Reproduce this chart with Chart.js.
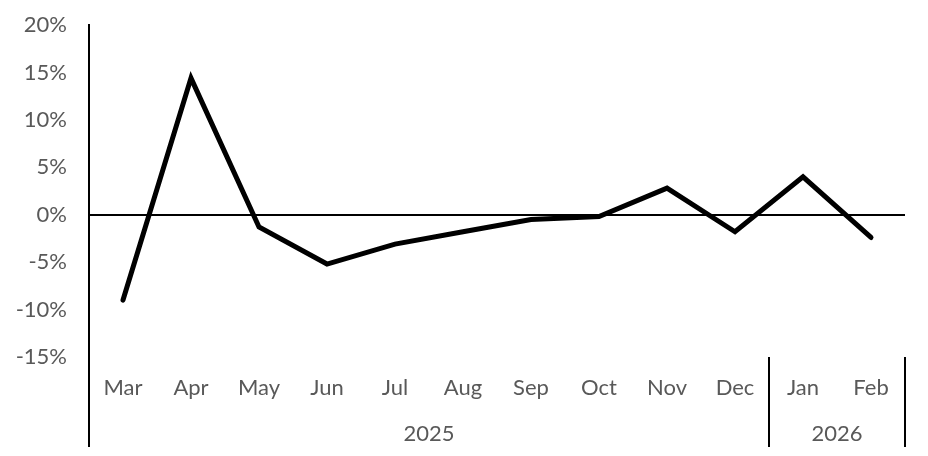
<!DOCTYPE html>
<html lang="en">
<head>
    <meta charset="UTF-8">
    <title>Monthly change</title>
    <script src="https://cdn.jsdelivr.net/npm/chart.js"></script>
    <style>
        html, body { margin: 0; padding: 0; background: #fff; }
        #wrap { width: 928px; height: 456px; }
    </style>
</head>
<body>
    <div id="wrap"><canvas id="chart" width="928" height="456"></canvas></div>

    <script>
        // Month categories and the year each group belongs to
        const months = ['Mar', 'Apr', 'May', 'Jun', 'Jul', 'Aug', 'Sep', 'Oct', 'Nov', 'Dec', 'Jan', 'Feb'];
        const years = ['2025', '2026'];
        const monthsPerYear = [10, 2];

        // Percent change per month
        const values = [-9.0, 14.4, -1.3, -5.2, -3.1, -1.8, -0.5, -0.2, 2.8, -1.8, 4.0, -2.4];

        // Y axis range
        const yMin = -15;
        const yMax = 20;
        const yStep = 5;

        const labelFont = { family: 'Lato', size: 22 };
        const labelColor = '#595959';

        // Draws the year group row, its separators and the long y axis line
        const yearGroups = {
            id: 'yearGroups',
            afterDraw(chart) {
                const ctx = chart.ctx;
                const x = chart.scales.x;
                const area = chart.chartArea;
                const bottom = 447;
                const half = (x.getPixelForValue(1) - x.getPixelForValue(0)) / 2;

                ctx.save();
                ctx.strokeStyle = '#000';
                ctx.lineWidth = 2;

                // y axis line running down through the label rows
                ctx.beginPath();
                ctx.moveTo(area.left, area.top - 1);
                ctx.lineTo(area.left, bottom);
                ctx.stroke();

                ctx.font = '22px Lato';
                ctx.fillStyle = labelColor;
                ctx.textAlign = 'center';
                ctx.textBaseline = 'middle';

                let start = 0;
                years.forEach((yr, i) => {
                    const end = start + monthsPerYear[i] - 1;
                    const left = x.getPixelForValue(start) - half;
                    const right = x.getPixelForValue(end) + half;
                    ctx.beginPath();
                    ctx.moveTo(right, area.bottom);
                    ctx.lineTo(right, bottom);
                    ctx.stroke();
                    ctx.fillText(yr, (left + right) / 2, 434);
                    start = end + 1;
                });
                ctx.restore();
            }
        };

        new Chart(document.getElementById('chart'), {
            type: 'line',
            data: {
                labels: months,
                datasets: [{
                    data: values,
                    borderColor: '#000',
                    borderWidth: 5,
                    borderCapStyle: 'round',
                    borderJoinStyle: 'miter',
                    pointRadius: 0,
                    tension: 0,
                    fill: false
                }]
            },
            options: {
                responsive: false,
                animation: false,
                layout: { padding: { top: 25, right: 23, bottom: 0, left: 0 } },
                plugins: {
                    legend: { display: false },
                    tooltip: { enabled: false }
                },
                scales: {
                    x: {
                        offset: true,
                        grid: { display: false, drawTicks: false },
                        border: { display: false },
                        ticks: {
                            font: labelFont,
                            color: labelColor,
                            padding: 18,
                            maxRotation: 0,
                            autoSkip: false
                        },
                        afterFit(scale) { scale.height = 99; }
                    },
                    y: {
                        min: yMin,
                        max: yMax,
                        ticks: {
                            stepSize: yStep,
                            font: labelFont,
                            color: labelColor,
                            padding: 22,
                            callback: v => v + '%'
                        },
                        grid: {
                            drawTicks: false,
                            lineWidth: 2,
                            color: c => c.tick && c.tick.value === 0 ? '#000' : 'rgba(0,0,0,0)'
                        },
                        border: { display: true, color: '#000', width: 2 },
                        afterFit(scale) {
                            scale.width = 89;
                            scale.paddingTop = 0;
                            scale.paddingBottom = 0;
                        }
                    }
                }
            },
            plugins: [yearGroups]
        });
    </script>
</body>
</html>
